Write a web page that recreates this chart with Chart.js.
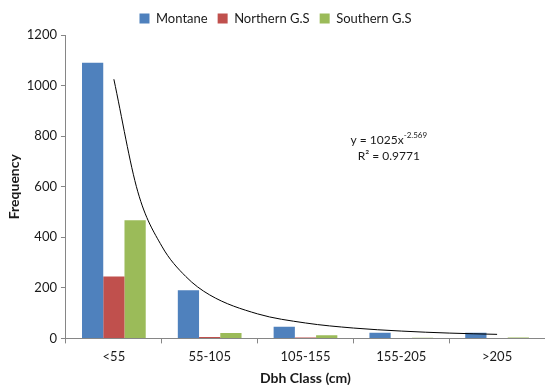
<!DOCTYPE html>
<html>
<head>
<meta charset="utf-8">
<script src="https://cdn.jsdelivr.net/npm/chart.js@4/dist/chart.umd.min.js"></script>
<style>
  body { margin: 0; background: #fff; }
</style>
</head>
<body>
<canvas id="dbhChart" width="545" height="385"></canvas>
<script>
// Dbh classes on the X-axis (placed at positions 1..5)
const classes = ['<55', '55-105', '105-155', '155-205', '>205'];
const classPos = [1, 2, 3, 4, 5];

// Frequency per class
const montane = [1090, 190, 46, 22, 22];
const northernGS = [245, 6, 4, 0, 0];
const southernGS = [467, 21, 12, 3, 4];

// Power trendline at class positions 1..5
const trendX = [1, 1.25, 1.5, 1.75, 2, 2.5, 3, 3.5, 4, 4.5, 5];
const trendY = [1025, 580, 365, 245, 172, 97, 61, 41, 29, 21, 16];

const yTicks = [0, 200, 400, 600, 800, 1000, 1200];

const axisColor = '#868686';
const textColor = '#1a1a1a';
const fontFamily = 'Lato, "Open Sans", sans-serif';

const toPoints = values => values.map((v, i) => ({ x: classPos[i], y: v }));

// Writes the trendline equation and R² inside the plot
const equationLabel = {
    id: 'equationLabel',
    afterDatasetsDraw(chart) {
        const ctx = chart.ctx;
        const xs = chart.scales.x;
        const ys = chart.scales.y;
        const cx = xs.getPixelForValue(3.87);
        ctx.save();
        ctx.fillStyle = textColor;
        ctx.textBaseline = 'middle';

        // y = 1025x^-2.569
        const base = 'y = 1025x';
        const sup = '-2.569';
        ctx.font = '12px ' + fontFamily;
        const wBase = ctx.measureText(base).width;
        ctx.font = '8px ' + fontFamily;
        const wSup = ctx.measureText(sup).width;
        const left = cx - (wBase + wSup) / 2;
        const y1 = ys.getPixelForValue(785);
        ctx.textAlign = 'left';
        ctx.font = '12px ' + fontFamily;
        ctx.fillText(base, left, y1);
        ctx.font = '8px ' + fontFamily;
        ctx.fillText(sup, left + wBase, y1 - 5);

        // R² = 0.9771
        ctx.font = '12px ' + fontFamily;
        ctx.textAlign = 'center';
        ctx.fillText('R\u00B2 = 0.9771', cx, ys.getPixelForValue(722));
        ctx.restore();
    }
};

var ctx = document.getElementById('dbhChart').getContext('2d');
var chart = new Chart(ctx, {
    type: 'bar',
    data: {
        datasets: [
            {
                label: 'Montane',
                data: toPoints(montane),
                backgroundColor: '#4F81BD',
                order: 2
            },
            {
                label: 'Northern G.S',
                data: toPoints(northernGS),
                backgroundColor: '#C0504D',
                order: 2
            },
            {
                label: 'Southern G.S',
                data: toPoints(southernGS),
                backgroundColor: '#9BBB59',
                order: 2
            },
            {
                type: 'line',
                label: 'trend',
                data: trendX.map((x, i) => ({ x: x, y: trendY[i] })),
                borderColor: '#000000',
                borderWidth: 1,
                pointRadius: 0,
                fill: false,
                cubicInterpolationMode: 'monotone',
                order: 1
            }
        ]
    },
    plugins: [equationLabel],
    options: {
        responsive: false,
        animation: false,
        datasets: {
            bar: { categoryPercentage: 0.665, barPercentage: 1.0 }
        },
        layout: { padding: { top: 2, right: 0, left: 6, bottom: 0 } },
        scales: {
            x: {
                type: 'linear',
                min: 0.5,
                max: 5.5,
                offset: false,
                afterBuildTicks: axis => { axis.ticks = classPos.map(v => ({ value: v })); },
                grid: {
                    display: true,
                    drawOnChartArea: false,
                    color: axisColor,
                    tickLength: 5,
                    offset: true
                },
                border: { color: axisColor },
                ticks: {
                    color: textColor,
                    font: { family: fontFamily, size: 13 },
                    padding: 6,
                    callback: v => classes[classPos.indexOf(v)]
                },
                title: {
                    display: true,
                    text: 'Dbh Class (cm)',
                    color: textColor,
                    font: { family: fontFamily, size: 14, weight: 'bold', lineHeight: 1 },
                    padding: { top: 0, bottom: 0 }
                }
            },
            y: {
                min: 0,
                max: 1200,
                afterBuildTicks: axis => { axis.ticks = yTicks.map(v => ({ value: v })); },
                grid: {
                    display: true,
                    drawOnChartArea: false,
                    color: axisColor,
                    tickLength: 5
                },
                border: { color: axisColor },
                ticks: {
                    color: textColor,
                    font: { family: fontFamily, size: 13 },
                    padding: 4,
                    callback: v => String(v)
                },
                title: {
                    display: true,
                    text: 'Frequency',
                    color: textColor,
                    font: { family: fontFamily, size: 14, weight: 'bold' },
                    padding: { top: 0, bottom: 0 }
                }
            }
        },
        plugins: {
            legend: {
                display: true,
                position: 'top',
                labels: {
                    boxWidth: 10,
                    boxHeight: 10,
                    color: textColor,
                    font: { family: fontFamily, size: 13 },
                    padding: 10,
                    filter: item => item.text !== 'trend'
                }
            },
            tooltip: { enabled: false }
        }
    }
});
</script>
</body>
</html>
